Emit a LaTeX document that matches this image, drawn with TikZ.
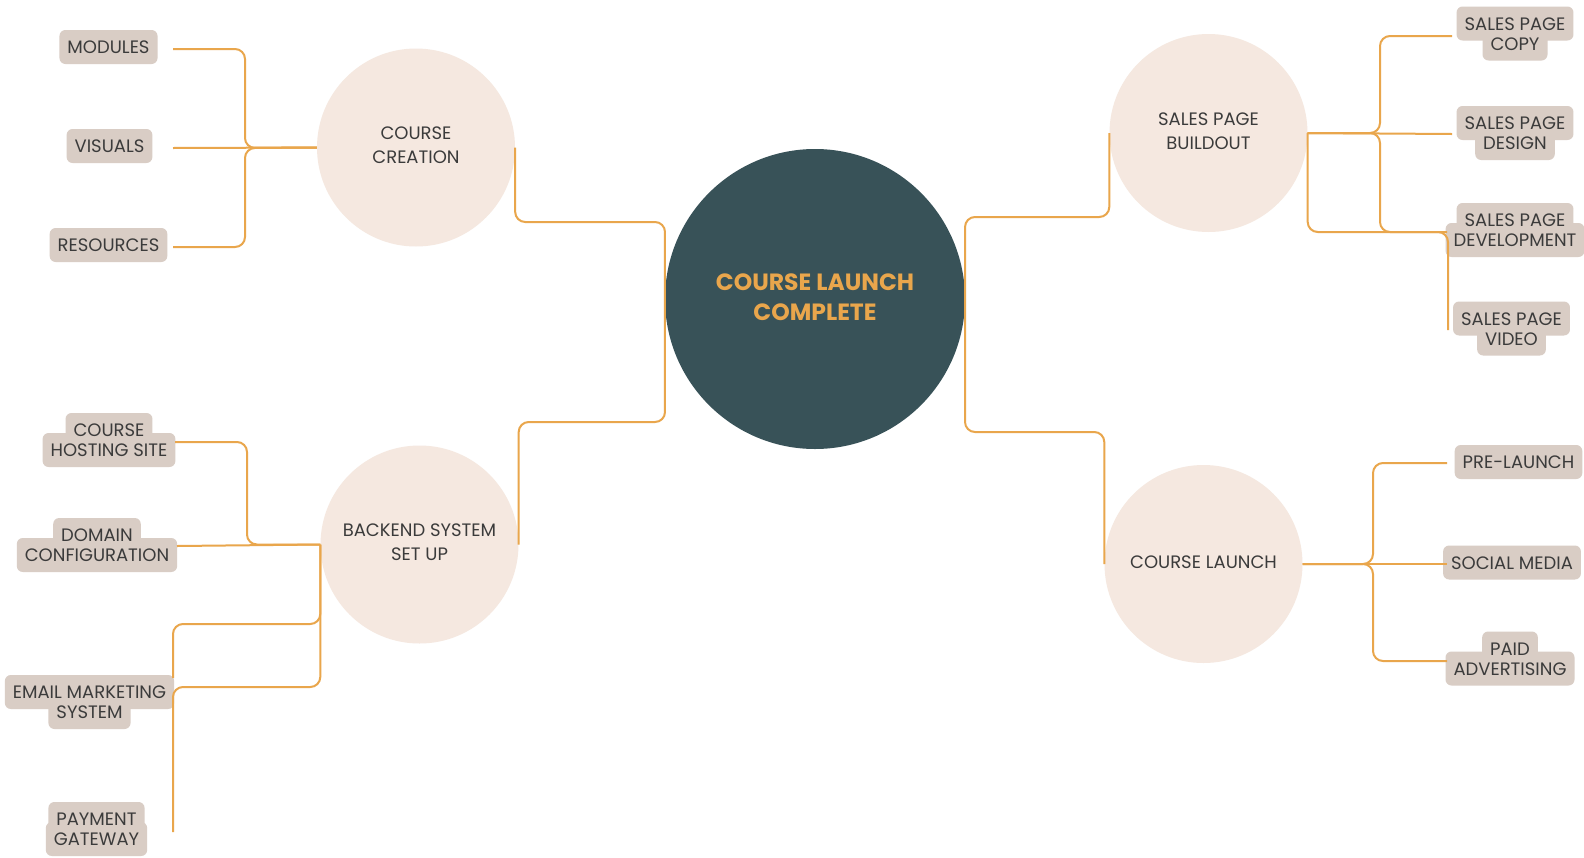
\documentclass[tikz,border=0pt]{standalone}
\usepackage{fontspec}
\setmainfont{Poppins}

\definecolor{wirecol}{HTML}{E9A64C}
\definecolor{hubfill}{HTML}{385258}
\definecolor{hubtext}{HTML}{E9A64C}
\definecolor{topicfill}{HTML}{F5E8E0}
\definecolor{tagfill}{HTML}{D9CDC5}
\definecolor{ink}{HTML}{3B3B3B}

\newcommand\labelfont{\fontsize{18}{20}\selectfont}
\newcommand\topicfont{\fontsize{18}{24}\selectfont}
\newcommand\hubfont{\fontsize{23.5}{30.5}\selectfont\bfseries}

\tikzset{
  tagbox/.style={fill=tagfill, rounded corners=6pt, inner xsep=8pt, inner ysep=0pt,
    minimum height=34pt, text height=13pt, text depth=0pt, font=\labelfont, text=ink},
  topic/.style={circle, fill=topicfill, minimum size=198pt, inner sep=0pt,
    align=center, font=\topicfont, text=ink, text depth=4pt},
  hub/.style={circle, fill=hubfill, minimum size=300pt, inner sep=0pt,
    align=center, font=\hubfont, text=hubtext, text depth=4pt},
  wire/.style={draw=wirecol, line width=2pt, rounded corners=10pt},
}

% two-line tag: both backgrounds first, then both lines of text
% #1 name, #2 x, #3 y between the lines, #4 first line, #5 second line
\newcommand\pairtag[5]{%
  \node[tagbox] (#1-bgA) at (#2,#3-10) {\phantom{#4}};
  \node[tagbox] (#1-bgB) at (#2,#3+10) {\phantom{#5}};
  \node[tagbox,fill=none] (#1-A) at (#2,#3-10) {#4};
  \node[tagbox,fill=none] (#1-B) at (#2,#3+10) {#5};
}

\begin{document}
\begin{tikzpicture}[x=1pt,y=-1pt]
\fill[white] (0,0) rectangle (1584,857);
\useasboundingbox (0,0) rectangle (1584,857);

% central hub and the four topics
\node[hub] (ctr) at (815,299) {COURSE LAUNCH\\COMPLETE};
\node[topic] (cc) at (416,147.5) {COURSE\\CREATION};
\node[topic] (bk) at (419.5,544.5) {BACKEND SYSTEM\\SET UP};
\node[topic] (sp) at (1208.5,133) {SALES PAGE\\BUILDOUT};
\node[topic] (cl) at (1203.5,564) {COURSE LAUNCH};

% tags
\node[tagbox] (mod) at (108.5,47) {MODULES};
\node[tagbox] (vis) at (109.5,146) {VISUALS};
\node[tagbox] (res) at (108.5,245) {RESOURCES};
\pairtag{host}{109}{440}{COURSE}{HOSTING SITE}
\pairtag{dom}{97}{545}{DOMAIN}{CONFIGURATION}
\pairtag{email}{89.5}{702}{EMAIL MARKETING}{SYSTEM}
\pairtag{pay}{96.5}{829}{PAYMENT}{GATEWAY}
\pairtag{copy}{1515}{33.5}{SALES PAGE}{COPY}
\pairtag{design}{1515}{133}{SALES PAGE}{DESIGN}
\pairtag{dev}{1515}{230}{SALES PAGE}{DEVELOPMENT}
\pairtag{video}{1511.5}{328.5}{SALES PAGE}{VIDEO}
\node[tagbox] (pre) at (1518.5,462) {PRE-LAUNCH};
\node[tagbox] (social) at (1512,562.5) {SOCIAL MEDIA};
\pairtag{paid}{1510}{658.5}{PAID}{ADVERTISING}

% connector ends and bends
\coordinate (modEnd) at (173,49);
\coordinate (visEnd) at (173,148);
\coordinate (resEnd) at (173,247);
\coordinate (ccJoin) at (245,148);
\coordinate (hubNW) at (665,222);
\coordinate (hubSW) at (665,422);
\coordinate (hubNE) at (965,217);
\coordinate (hubSE) at (965,432);
\coordinate (spJoin) at (1380,133);
\coordinate (copyEnd) at (1452,36);
\coordinate (designEnd) at (1452,134);
\coordinate (devEnd) at (1447,232);
\coordinate (videoBend) at (1448,232);
\coordinate (videoEnd) at (1448,330);
\coordinate (hostEnd) at (175,442);
\coordinate (bkJoin) at (247,544.5);
\coordinate (domEnd) at (177,546);
\coordinate (emailBend) at (173,624);
\coordinate (emailEnd) at (173,678);
\coordinate (payBend) at (173,687);
\coordinate (payEnd) at (173,832);
\coordinate (clJoin) at (1373,564);
\coordinate (preEnd) at (1447,463);
\coordinate (socialEnd) at (1447,564);
\coordinate (paidEnd) at (1447,661);

% course creation branch
\draw[wire] (modEnd) -| (ccJoin) -- (cc.west);
\draw[wire] (visEnd) -- (cc.west);
\draw[wire] (resEnd) -| (ccJoin) -- (cc.west);

% topics to hub
\draw[wire] (cc.east) |- (hubNW) -- (ctr.west);
\draw[wire] (bk.east) |- (hubSW) -- (ctr.west);
\draw[wire] (sp.west) |- (hubNE) -- (ctr.east);
\draw[wire] (cl.west) |- (hubSE) -- (ctr.east);

% sales page branch
\draw[wire] (sp.east) -- (spJoin) |- (copyEnd);
\draw[wire] (sp.east) -- (designEnd);
\draw[wire] (sp.east) -- (spJoin) |- (devEnd);
\draw[wire] (sp.east) |- (videoBend) -- (videoEnd);

% backend branch
\draw[wire] (hostEnd) -| (bkJoin) -- (bk.west);
\draw[wire] (domEnd) -- (bk.west);
\draw[wire] (bk.west) |- (emailBend) -- (emailEnd);
\draw[wire] (bk.west) |- (payBend) -- (payEnd);

% launch branch
\draw[wire] (cl.east) -- (clJoin) |- (preEnd);
\draw[wire] (cl.east) -- (socialEnd);
\draw[wire] (cl.east) -- (clJoin) |- (paidEnd);
\end{tikzpicture}
\end{document}
